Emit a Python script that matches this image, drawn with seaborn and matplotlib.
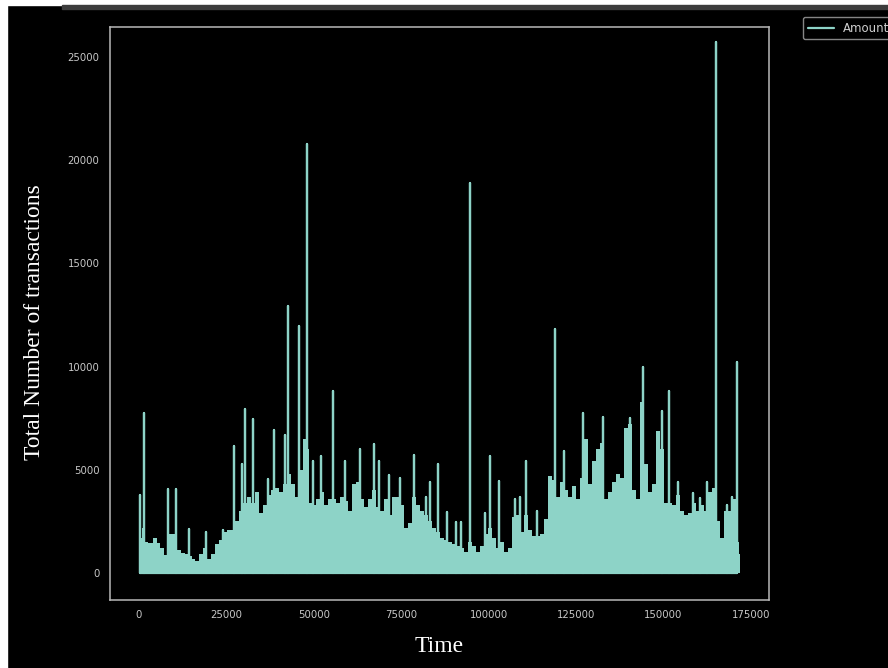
import numpy as np
import pandas as pd
import matplotlib
matplotlib.use("Agg")
import matplotlib.pyplot as plt
from matplotlib.patches import Rectangle
import seaborn as sns

# ---- data ----
# dense "body" of the series (upper level of the solid region)
band_time = [0, 572, 1144, 1716, 3146, 4576, 5434, 6578, 7722, 8866, 10296, 11440, 12584,
             13728, 14586, 15444, 16588, 17732, 18876, 20020, 21164, 22308, 23452, 24596,
             25740, 26884, 28028, 29172, 30316, 31460, 32604, 33748, 34892, 36036, 37180,
             38324, 39468, 40612, 41756, 42900, 44044, 45188, 46332, 47476, 48334, 49192,
             50050, 51194, 52338, 53482, 54626, 55770, 56914, 58058, 59202, 60346, 61490,
             62634, 63778, 64922, 66066, 67210, 68354, 69498, 70642, 71786, 72930, 74074,
             75218, 76362, 77506, 78650, 79794, 80938, 82082, 83226, 84370, 85514, 86658,
             87802, 88946, 90090, 91234, 92378, 93522, 94666, 95810, 96954, 98098, 99242,
             100386, 101530, 102674, 103818, 104962, 106106, 107250, 108394, 109538, 110682,
             111826, 112970, 114114, 115258, 116402, 117546, 118690, 119834, 120978, 122122,
             123266, 124410, 125554, 126698, 127842, 128986, 130130, 131274, 132418, 133562,
             134706, 135850, 136994, 138138, 139282, 140426, 141570, 142714, 143858, 145002,
             146146, 147290, 148434, 149578, 150722, 151866, 153010, 154154, 155298, 156442,
             157586, 158730, 159874, 161018, 162162, 163306, 164450, 165594, 166738, 167882,
             169026, 170170, 171314, 172000]
band_amount = [2400, 1700, 2200, 1500, 1450, 1700, 1450, 1200, 850, 1900, 1900, 1100, 950,
               900, 800, 700, 600, 900, 1200, 700, 900, 1400, 1600, 2000, 2100, 2100, 2500,
               3000, 3400, 3700, 3400, 3900, 2900, 3300, 3800, 4000, 4100, 3900, 4300, 4800,
               4300, 3700, 5000, 6500, 6000, 3400, 3300, 3600, 3900, 3300, 3600, 3600, 3400,
               3700, 3500, 3000, 4300, 4400, 3600, 3200, 3600, 4000, 3200, 3000, 3600, 2800,
               3700, 3700, 3300, 2200, 2400, 3700, 3300, 3000, 2800, 2500, 2200, 2000, 1700,
               1600, 1500, 1400, 1300, 1200, 1000, 1500, 1300, 1000, 1300, 1900, 2200, 1700,
               1200, 1500, 1000, 1200, 2700, 2800, 2000, 2800, 2100, 1800, 1800, 1900, 2600,
               4700, 4500, 3700, 4400, 4000, 3700, 4200, 3600, 4600, 6500, 4300, 5400, 6000,
               6300, 3600, 3900, 4400, 4800, 4600, 7000, 7200, 4000, 3600, 8300, 5300, 3900,
               4300, 6900, 6000, 3400, 3400, 3300, 3800, 3000, 2800, 2900, 3400, 3000, 3300,
               3000, 3900, 4100, 2500, 1700, 3000, 3000, 3600, 1500, 900]

# isolated spikes
spike_time = [300, 1290, 8300, 10600, 14300, 19200, 24000, 27200, 29500, 30300, 32600,
              36900, 38600, 41800, 42600, 45800, 48000, 49800, 52100, 55500, 59000, 63200,
              67200, 68600, 71500, 74600, 78600, 82100, 83200, 85500, 88100, 90700, 92100,
              94700, 99000, 100400, 103000, 107500, 109000, 110700, 113800, 119000, 121600,
              127000, 132700, 140400, 144100, 149600, 151600, 154200, 158400, 160400, 162400,
              165000, 168200, 169600, 171000]
spike_amount = [3800, 7750, 4050, 4050, 2150, 2000, 2100, 6150, 5300, 7950, 7450,
                4550, 6950, 6700, 12950, 11950, 20800, 5400, 5650, 8800, 5400, 6000,
                6250, 5400, 4750, 4600, 5700, 3700, 4400, 5300, 2950, 2450, 2450,
                18900, 2900, 5650, 4450, 3600, 3700, 5400, 3000, 11800, 5900,
                7750, 7550, 7500, 10000, 7850, 8800, 4400, 3850, 3650, 4400,
                25700, 3300, 3700, 10200]

x_ticks = [0, 25000, 50000, 75000, 100000, 125000, 150000, 175000]
y_ticks = [0, 5000, 10000, 15000, 20000, 25000]

LINE = "#8dd3c7"

sns.set_theme(style="dark")
plt.style.use("dark_background")

fig = plt.figure(figsize=(8.88, 6.68), dpi=100, facecolor="black")
ax = fig.add_axes([110 / 888, 1 - 600 / 668, 659 / 888, 573 / 668])
ax.set_facecolor("black")

# vertical spike path built from the spike arrays
xs, ys = [], []
for t, v in zip(spike_time, spike_amount):
    xs += [t, t, t]
    ys += [0, v, 0]
df = pd.DataFrame({"Time": xs, "Amount": ys})

ax.fill_between(band_time, 0, band_amount, step="mid", color=LINE, lw=0)
sns.lineplot(data=df, x="Time", y="Amount", estimator=None, sort=False,
             color=LINE, lw=1.6, label="Amount", ax=ax)

ax.set_xlim(-8300, 180200)
ax.set_ylim(-1310, 26450)
ax.set_xticks(x_ticks)
ax.set_yticks(y_ticks)
ax.set_xticklabels([str(v) for v in x_ticks])
ax.set_yticklabels([str(v) for v in y_ticks])
ax.grid(False)

for s in ax.spines.values():
    s.set_color("#b8b8b8")
    s.set_linewidth(1.1)
ax.tick_params(axis="both", colors="#b8b8b8", labelcolor="#c8c8c8",
               labelsize=7.3, length=3.5, width=0.9, direction="out", pad=4)

ax.set_xlabel("Time", family="Liberation Serif", fontsize=17, color="white")
ax.set_ylabel("Total Number of transactions", family="Liberation Serif",
              fontsize=17, color="white")
ax.xaxis.set_label_coords(0.5, (600 - 647) / 573)
ax.xaxis.label.set_va("center")
ax.yaxis.set_label_coords((35 - 110) / 659, 0.485)
ax.yaxis.label.set_va("center")
ax.yaxis.label.set_ha("center")

leg = ax.legend(loc="upper left", bbox_to_anchor=((803 - 110) / 659, (600 - 17) / 573),
                borderaxespad=0, fontsize=8.5, frameon=True, handlelength=2.2)
leg.get_frame().set_facecolor("black")
leg.get_frame().set_edgecolor("#a8a8a8")
for txt in leg.get_texts():
    txt.set_color("#cfcfcf")

# screenshot border strips
fig.patches.append(Rectangle((0, 1 - 5 / 668), 1, 5 / 668, transform=fig.transFigure,
                             color="white", zorder=-1))
fig.patches.append(Rectangle((0, 0), 7 / 888, 1, transform=fig.transFigure,
                             color="white", zorder=-1))
fig.patches.append(Rectangle((62 / 888, 1 - 9 / 668), 1, 4 / 668, transform=fig.transFigure,
                             color="#3c3c3c", zorder=-1))

fig.savefig("out.png", dpi=100, facecolor="black")
